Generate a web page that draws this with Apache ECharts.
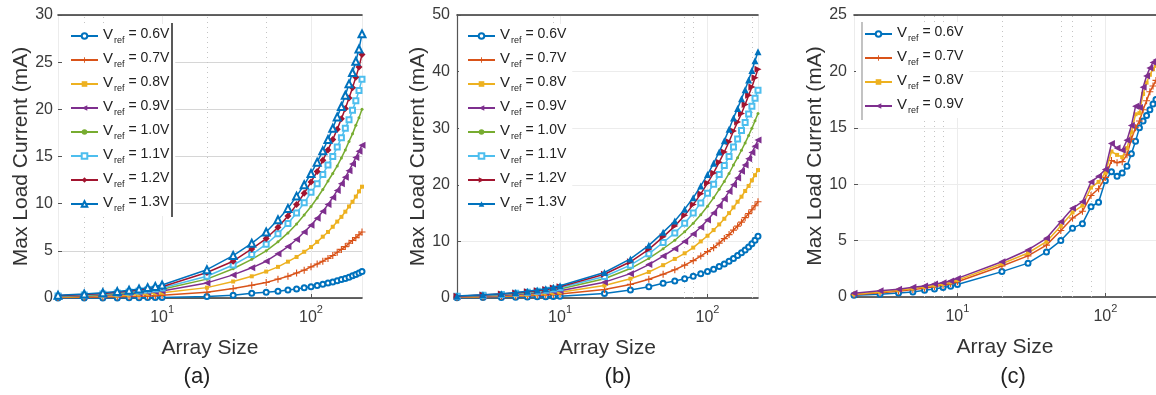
<!DOCTYPE html>
<html>
<head>
<meta charset="utf-8">
<script src="https://cdn.jsdelivr.net/npm/echarts@6/dist/echarts.min.js"></script>
<style>
  html, body { margin: 0; padding: 0; background: #fff; }
  #chart { width: 1156px; height: 395px; }
</style>
</head>
<body>
<div id="chart"></div>
<script>
// array sizes (x) shared by all three panels
const xs = [2, 3, 4, 5, 6, 7, 8, 9, 10, 20, 30, 40, 50, 60, 70, 80, 90, 100,
  110, 120, 130, 140, 150, 160, 170, 180, 190, 200, 210, 220]

const vrefLabels = ['0.6V', '0.7V', '0.8V', '0.9V', '1.0V', '1.1V', '1.2V', '1.3V']

// panel (a)
const a06 = [0, 0, 0, 0, 0.02, 0.03, 0.04, 0.05, 0.06, 0.15, 0.28, 0.5, 0.62, 0.72, 0.85, 0.95, 1.08, 1.2, 1.32, 1.45, 1.58, 1.7, 1.82, 1.95, 2.08, 2.2, 2.35, 2.5, 2.65, 2.82]
const a07 = [0.05, 0.08, 0.1, 0.13, 0.16, 0.19, 0.22, 0.25, 0.3, 0.6, 1.0, 1.35, 1.65, 2.0, 2.3, 2.65, 2.95, 3.3, 3.6, 3.9, 4.2, 4.5, 4.85, 5.15, 5.45, 5.8, 6.1, 6.4, 6.7, 7.0]
const a08 = [0.1, 0.15, 0.2, 0.25, 0.3, 0.37, 0.43, 0.5, 0.55, 1.1, 1.75, 2.3, 2.8, 3.3, 3.85, 4.35, 4.9, 5.4, 5.95, 6.5, 7.0, 7.55, 8.1, 8.6, 9.15, 9.7, 10.2, 10.75, 11.3, 11.8]
const a09 = [0.15, 0.22, 0.3, 0.37, 0.45, 0.52, 0.6, 0.67, 0.75, 1.6, 2.45, 3.2, 3.9, 4.7, 5.45, 6.2, 7.0, 7.7, 8.45, 9.2, 9.9, 10.65, 11.4, 12.1, 12.8, 13.5, 14.2, 14.9, 15.55, 16.2]
const a10 = [0.18, 0.27, 0.36, 0.45, 0.55, 0.64, 0.73, 0.82, 0.92, 2.0, 3.1, 4.1, 5.0, 5.95, 6.9, 7.85, 8.8, 9.7, 10.6, 11.5, 12.4, 13.2, 14.0, 14.85, 15.7, 16.6, 17.4, 18.3, 19.1, 20.0]
const a11 = [0.22, 0.32, 0.42, 0.53, 0.63, 0.74, 0.84, 0.95, 1.05, 2.3, 3.5, 4.6, 5.7, 6.8, 7.9, 9.0, 10.1, 11.2, 12.1, 13.1, 14.1, 15.0, 16.0, 17.0, 18.0, 18.9, 19.9, 20.9, 22.0, 23.2]
const a12 = [0.25, 0.36, 0.48, 0.6, 0.72, 0.84, 0.96, 1.08, 1.2, 2.7, 3.9, 5.2, 6.3, 7.5, 8.7, 9.9, 11.1, 12.3, 13.4, 14.6, 15.7, 16.8, 17.9, 19.0, 20.1, 21.2, 22.3, 23.4, 24.5, 25.8]
const a13 = [0.3, 0.42, 0.55, 0.68, 0.82, 0.95, 1.1, 1.23, 1.38, 3.0, 4.5, 5.8, 7.0, 8.3, 9.5, 10.8, 12.0, 13.2, 14.4, 15.6, 16.8, 18.0, 19.2, 20.3, 21.5, 22.7, 23.9, 25.1, 26.4, 28.0]

// panel (b)
const b06 = [0.05, 0.08, 0.1, 0.13, 0.16, 0.2, 0.24, 0.28, 0.32, 0.8, 1.4, 2.0, 2.6, 3.0, 3.4, 3.85, 4.3, 4.7, 5.1, 5.55, 6.0, 6.5, 7.0, 7.5, 8.0, 8.5, 9.0, 9.6, 10.2, 10.9]
const b07 = [0.12, 0.18, 0.25, 0.32, 0.4, 0.47, 0.55, 0.62, 0.7, 1.5, 2.4, 3.3, 4.2, 5.0, 5.8, 6.6, 7.4, 8.2, 8.9, 9.7, 10.5, 11.2, 12.0, 12.7, 13.4, 14.2, 14.9, 15.6, 16.3, 17.0]
const b08 = [0.18, 0.27, 0.36, 0.46, 0.56, 0.67, 0.78, 0.89, 1.0, 2.2, 3.4, 4.6, 5.8, 6.9, 7.9, 8.9, 10.0, 11.0, 12.0, 13.0, 14.0, 15.0, 16.0, 17.0, 17.9, 18.9, 19.8, 20.8, 21.7, 22.6]
const b09 = [0.22, 0.34, 0.46, 0.6, 0.73, 0.86, 1.0, 1.15, 1.3, 2.8, 4.3, 5.9, 7.4, 8.7, 10.0, 11.3, 12.5, 13.8, 15.0, 16.3, 17.5, 18.8, 20.0, 21.2, 22.4, 23.5, 24.6, 25.7, 26.8, 27.9]
const b10 = [0.27, 0.42, 0.57, 0.73, 0.89, 1.05, 1.22, 1.4, 1.6, 3.4, 5.2, 7.0, 8.7, 10.2, 11.7, 13.2, 14.7, 16.2, 17.7, 19.2, 20.6, 22.0, 23.5, 24.8, 26.1, 27.4, 28.7, 30.0, 31.3, 32.6]
const b11 = [0.3, 0.47, 0.64, 0.82, 1.0, 1.18, 1.37, 1.57, 1.8, 3.8, 5.8, 7.8, 9.8, 11.5, 13.2, 15.0, 16.8, 18.5, 20.1, 21.8, 23.4, 25.0, 26.7, 28.1, 29.6, 31.0, 32.5, 33.9, 35.3, 36.7]
const b12 = [0.33, 0.52, 0.7, 0.9, 1.1, 1.3, 1.52, 1.75, 2.0, 4.2, 6.4, 8.6, 10.8, 12.7, 14.6, 16.5, 18.4, 20.3, 22.1, 24.0, 25.8, 27.6, 29.5, 31.1, 32.6, 34.2, 35.8, 37.3, 38.9, 40.4]
const b13 = [0.36, 0.56, 0.76, 0.97, 1.18, 1.4, 1.63, 1.88, 2.15, 4.5, 6.9, 9.3, 11.6, 13.6, 15.7, 17.7, 19.8, 21.8, 23.8, 25.8, 27.8, 29.8, 31.8, 33.5, 35.2, 36.8, 38.5, 40.2, 41.9, 43.5]

// panel (c)
const c06 = [0.15, 0.25, 0.35, 0.45, 0.6, 0.7, 0.85, 0.95, 1.1, 2.25, 3.0, 4.0, 5.0, 6.1, 6.5, 8.0, 8.4, 10.3, 11.1, 10.7, 11.0, 11.6, 12.7, 13.8, 15.0, 15.6, 16.1, 16.6, 17.1, 17.5]
const c07 = [0.2, 0.38, 0.52, 0.66, 0.78, 0.92, 1.05, 1.18, 1.35, 2.75, 3.65, 4.6, 5.9, 7.0, 7.6, 9.0, 9.6, 10.6, 12.1, 11.9, 12.0, 12.6, 14.0, 15.0, 15.6, 16.6, 17.4, 18.2, 18.7, 19.2]
const c08 = [0.25, 0.45, 0.6, 0.75, 0.88, 1.02, 1.15, 1.3, 1.5, 2.95, 3.9, 4.9, 6.3, 7.5, 8.1, 9.7, 10.2, 11.0, 12.9, 12.6, 12.4, 13.2, 14.6, 16.2, 16.3, 18.0, 19.0, 19.7, 20.2, 20.5]
const c09 = [0.33, 0.56, 0.68, 0.86, 0.98, 1.15, 1.27, 1.42, 1.65, 3.13, 4.17, 5.2, 6.68, 7.86, 8.45, 10.2, 10.7, 11.3, 13.6, 13.2, 13.0, 13.9, 15.2, 16.9, 16.8, 18.6, 19.6, 20.3, 20.8, 21.0]

// y ranges per panel
const yMax = [30, 50, 25]
const yStep = [5, 10, 5]
// faint dotted minor grid lines that show up in each panel
const minorA = [3, 4, 20, 50]
const minorB = [9, 70, 80, 200]
const minorC = [6, 7, 8, 20, 50, 60, 80]

const panelA = [a06, a07, a08, a09, a10, a11, a12, a13]
const panelB = [b06, b07, b08, b09, b10, b11, b12, b13]
const panelC = [c06, c07, c08, c09]

const colors = ['#0072BD', '#D95319', '#EDB120', '#7E2F8E', '#77AC30', '#4DBEEE', '#A2142F', '#0072BD']
const PLUS = 'path://M4.2,0H5.8V4.2H10V5.8H5.8V10H4.2V5.8H0V4.2H4.2Z'

const markerA = [
  { symbol: 'emptyCircle', size: 5 },
  { symbol: PLUS, size: 7 },
  { symbol: 'rect', size: 4 },
  { symbol: 'triangle', size: 7, rot: 90 },
  { symbol: 'circle', size: 3 },
  { symbol: 'emptyRect', size: 5 },
  { symbol: 'diamond', size: 7 },
  { symbol: 'emptyTriangle', size: 7 }
]
const markerB = markerA.slice(0, 6).concat([
  { symbol: 'triangle', size: 7, rot: -90 },
  { symbol: 'triangle', size: 7 }
])

const FONT = 'Liberation Sans, Arial, sans-serif'
const grids = [
  { left: 58, top: 15, width: 304, height: 283 },
  { left: 457, top: 15, width: 301, height: 283 },
  { left: 854, top: 15, width: 302, height: 282 }
]

const chart = echarts.init(document.getElementById('chart'), null, { renderer: 'canvas' })

function makeSeries (panel, gi, values, markers, minor) {
  return values.map((vals, i) => {
    const m = markers[i]
    const s = {
      name: panel + '|' + vrefLabels[i],
      type: 'line',
      xAxisIndex: gi,
      yAxisIndex: gi,
      data: xs.map((x, k) => [x, vals[k]]),
      color: colors[i],
      symbol: m.symbol,
      symbolSize: m.size,
      symbolRotate: m.rot || 0,
      showAllSymbol: true,
      clip: false,
      lineStyle: { width: 1.5, color: colors[i] },
      itemStyle: { color: colors[i], borderWidth: 1.2 },
      emphasis: { disabled: true },
      z: 3 + i
    }
    if (i === 0) {
      s.markLine = {
        silent: true,
        symbol: 'none',
        label: { show: false },
        lineStyle: { type: [1, 4], color: '#c4c4c4', width: 1 },
        data: minor.map(v => ({ xAxis: v })),
        z: 1
      }
    }
    return s
  })
}

function fmtPow (v) {
  const e = Math.round(Math.log10(v))
  if (Math.abs(Math.pow(10, e) - v) > 1e-6 * v) return ''
  return '{b|10}{e|' + e + '}'
}

const bottomAxes = grids.map((g, i) => ({
  type: 'log',
  logBase: 10,
  gridIndex: i,
  position: 'bottom',
  min: 2,
  max: 220,
  name: 'Array Size',
  nameLocation: 'middle',
  nameGap: 40,
  nameTextStyle: { fontSize: 21, color: '#333', fontFamily: FONT },
  axisLine: { show: true, lineStyle: { color: '#333', width: 1.6 } },
  axisTick: { show: true, inside: true, length: 4, lineStyle: { color: '#555' } },
  axisLabel: {
    show: true,
    showMinLabel: false,
    showMaxLabel: false,
    margin: 6,
    formatter: fmtPow,
    rich: {
      b: { fontSize: 16, color: '#3a3a3a', fontFamily: FONT, lineHeight: 22, verticalAlign: 'bottom' },
      e: { fontSize: 11, color: '#3a3a3a', fontFamily: FONT, lineHeight: 12, verticalAlign: 'top' }
    }
  },
  splitLine: { show: true, lineStyle: { color: '#ececec', width: 1 } },
  minorTick: { show: false },
  minorSplitLine: { show: false }
}))

const topAxes = grids.map((g, i) => ({
  type: 'log',
  logBase: 10,
  gridIndex: i,
  position: 'top',
  min: 2,
  max: 220,
  axisLine: { show: true, lineStyle: { color: '#333', width: 1.6 } },
  axisTick: { show: false },
  axisLabel: { show: false },
  splitLine: { show: false }
}))

const yNameGap = [26, 28, 28]
const yAxes = grids.map((g, i) => ({
  type: 'value',
  gridIndex: i,
  min: 0,
  max: yMax[i],
  interval: yStep[i],
  name: 'Max Load Current (mA)',
  nameLocation: 'middle',
  nameGap: yNameGap[i],
  nameTextStyle: { fontSize: 21, color: '#333', fontFamily: FONT },
  axisLine: { show: i === 1, lineStyle: { color: '#555', width: 1.2 } },
  axisTick: { show: true, inside: true, length: 4, lineStyle: { color: '#555' } },
  axisLabel: { fontSize: 16, color: '#3a3a3a', fontFamily: FONT, margin: i === 0 ? 5 : 7 },
  splitLine: { show: true, lineStyle: { color: i === 0 ? '#d6d6d6' : '#ececec', width: 1 } }
}))

function legendFor (panel, count, left, top) {
  return {
    orient: 'vertical',
    left: left,
    top: top,
    itemGap: 6,
    itemWidth: 27,
    itemHeight: 7,
    padding: [3, 6, 3, 8],
    backgroundColor: '#fff',
    selectedMode: false,
    data: vrefLabels.slice(0, count).map(l => panel + '|' + l),
    formatter: name => '{v|V}{s|ref}{t| = ' + name.split('|')[1] + '}',
    textStyle: {
      fontFamily: FONT,
      rich: {
        v: { fontSize: 15, color: '#222', fontFamily: FONT, verticalAlign: 'top' },
        s: { fontSize: 9, color: '#222', fontFamily: FONT, verticalAlign: 'bottom', padding: [9, 0, 0, 1] },
        t: { fontSize: 14, color: '#222', fontFamily: FONT, verticalAlign: 'top' }
      }
    }
  }
}

const titleStyle = { fontSize: 22, fontWeight: 'normal', color: '#222', fontFamily: FONT }

const option = {
  animation: false,
  backgroundColor: '#fff',
  textStyle: { fontFamily: FONT },
  title: [
    { text: '(a)', left: 192, top: 361, textAlign: 'center', textStyle: titleStyle },
    { text: '(b)', left: 613, top: 361, textAlign: 'center', textStyle: titleStyle },
    { text: '(c)', left: 1008, top: 361, textAlign: 'center', textStyle: titleStyle }
  ],
  grid: grids.map(g => Object.assign({ containLabel: false, outerBoundsMode: 'none' }, g)),
  xAxis: bottomAxes.concat(topAxes),
  yAxis: yAxes,
  legend: [
    legendFor('a', 8, 62, 24),
    legendFor('b', 8, 459, 24),
    legendFor('c', 4, 856, 22)
  ],
  graphic: [
    { type: 'line', shape: { x1: 172, y1: 23, x2: 172, y2: 217 }, style: { stroke: '#222', lineWidth: 1.5 }, z: 100 },
    { type: 'line', shape: { x1: 862, y1: 22, x2: 862, y2: 120 }, style: { stroke: '#9a9a9a', lineWidth: 1.2 }, z: 100 }
  ],
  series: []
    .concat(makeSeries('a', 0, panelA, markerA, minorA))
    .concat(makeSeries('b', 1, panelB, markerB, minorB))
    .concat(makeSeries('c', 2, panelC, markerA, minorC))
}

chart.setOption(option)
</script>
</body>
</html>
